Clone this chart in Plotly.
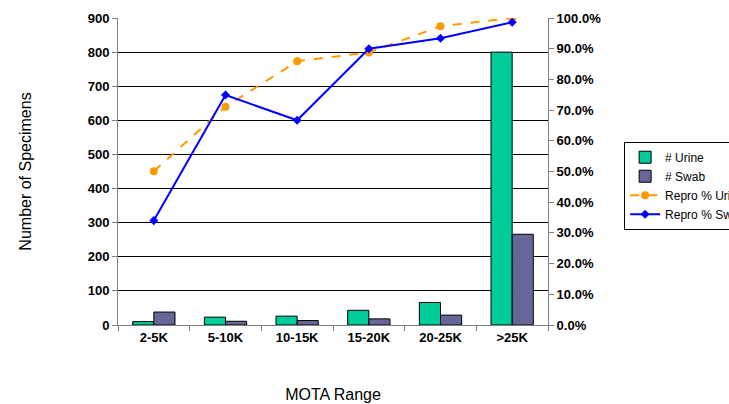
import plotly.graph_objects as go

categories = ["2-5K", "5-10K", "10-15K", "15-20K", "20-25K", ">25K"]
urine_counts = [10, 23, 26, 43, 66, 800]
swab_counts = [38, 11, 13, 18, 29, 266]
repro_urine = [0.501, 0.711, 0.859, 0.888, 0.973, 1.0]
repro_swab = [0.340, 0.749, 0.667, 0.900, 0.934, 0.986]

FONT = "Liberation Sans, Arial, sans-serif"

fig = go.Figure()
fig.add_trace(go.Bar(
    x=categories, y=urine_counts, name="# Urine",
    marker=dict(color="#00CC99", line=dict(color="#000000", width=1)),
))
fig.add_trace(go.Bar(
    x=categories, y=swab_counts, name="# Swab",
    marker=dict(color="#666699", line=dict(color="#000000", width=1)),
))
fig.add_trace(go.Scatter(
    x=categories, y=repro_urine, name="Repro % Urine", yaxis="y2",
    mode="lines+markers",
    line=dict(color="#FF9900", width=2, dash="dash"),
    marker=dict(symbol="circle", size=8, color="#FF9900"),
))
fig.add_trace(go.Scatter(
    x=categories, y=repro_swab, name="Repro % Swab", yaxis="y2",
    mode="lines+markers",
    line=dict(color="#0000FF", width=2),
    marker=dict(symbol="diamond", size=7, color="#0000FF"),
))

fig.update_layout(
    width=729, height=404,
    margin=dict(l=118, r=181, t=18, b=79, autoexpand=False),
    paper_bgcolor="white", plot_bgcolor="white",
    barmode="group", bargap=0.41, bargroupgap=0,
    font=dict(family=FONT, color="#000000"),
    showlegend=True,
    legend=dict(
        x=1.177, y=0.597, xanchor="left", yanchor="top",
        bordercolor="#000000", borderwidth=1, bgcolor="white",
        font=dict(family=FONT, size=12), tracegroupgap=0,
        itemwidth=30,
    ),
    xaxis=dict(
        showline=True, linecolor="#808080", linewidth=1,
        ticks="outside", tickson="boundaries", ticklen=5, tickcolor="#808080",
        tickfont=dict(family=FONT, size=13, weight="bold"),
        title=dict(text="MOTA Range", font=dict(family=FONT, size=16), standoff=45),
        showgrid=False,
    ),
    yaxis=dict(
        range=[0, 900], dtick=100,
        showline=True, linecolor="#808080", linewidth=1,
        ticks="outside", ticklen=5, tickcolor="#808080",
        showgrid=True, gridcolor="#000000", gridwidth=1,
        zeroline=False,
        tickfont=dict(family=FONT, size=13, weight="bold"),
        title=dict(text="Number of Specimens", font=dict(family=FONT, size=16), standoff=52),
    ),
    yaxis2=dict(
        range=[0, 1], dtick=0.1, tickformat=".1%",
        overlaying="y", side="right",
        showline=True, linecolor="#808080", linewidth=1,
        ticks="outside", ticklen=5, tickcolor="#808080",
        showgrid=False, zeroline=False,
        tickfont=dict(family=FONT, size=13, weight="bold"),
    ),
)

fig.write_html("out.html")
